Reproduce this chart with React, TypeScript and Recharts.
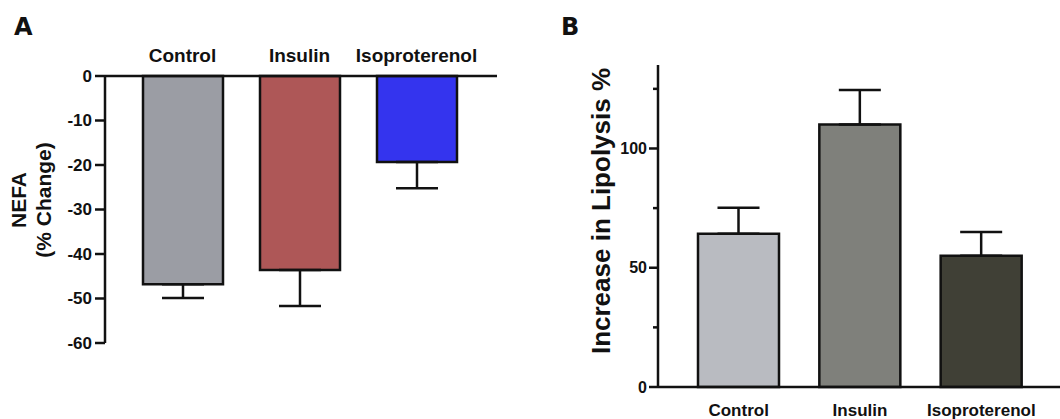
import { BarChart, Bar, XAxis, YAxis, ErrorBar, Cell } from "recharts";

const groups = ["Control", "Insulin", "Isoproterenol"];

// panel A – NEFA % change
const nefaChange = [-46.8, -43.6, -19.3];
const nefaSem = [3.1, 8.1, 5.9];
const nefaColors = ["#9b9da4", "#ae5757", "#3434ee"];
const nefaTicks = [0, -10, -20, -30, -40, -50, -60];

// panel B – increase in lipolysis
const lipolysis = [64.2, 110.1, 55.0];
const lipolysisSem = [10.9, 14.4, 10.0];
const lipolysisColors = ["#b9bbc1", "#7f807b", "#404036"];
const lipolysisTicks = [0, 25, 50, 75, 100, 125];
const lipolysisLabelled = [0, 50, 100];

const INK = "#111";
const FONT = "'Liberation Sans', Arial, sans-serif";
const LINE = 2.5;

// one-sided SEM bars: A points down, B points up
const dataA = groups.map((g, i) => ({ group: g, value: nefaChange[i], err: [nefaSem[i], 0] }));
const dataB = groups.map((g, i) => ({ group: g, value: lipolysis[i], err: [0, lipolysisSem[i]] }));

const NefaTitle = () => (
  <g fontFamily={FONT} fontWeight={700} fontSize={21} fill={INK} textAnchor="middle">
    <text transform="translate(19,200) rotate(-90)" dy="0.35em">NEFA</text>
    <text transform="translate(44,200) rotate(-90)" dy="0.35em">(% Change)</text>
  </g>
);

const LipolysisTitle = () => (
  <text
    transform="translate(71,211) rotate(-90)"
    dy="0.35em"
    textAnchor="middle"
    fontFamily={FONT}
    fontWeight={700}
    fontSize={26}
    fill={INK}
  >
    Increase in Lipolysis %
  </text>
);

type TickProps = { x?: number; y?: number; payload?: { value: number } };

const NefaTick = ({ x, y, payload }: TickProps) => {
  if (x == null || y == null || !payload) return null;
  return (
    <g>
      <line x1={x - 10} x2={x} y1={y} y2={y} stroke={INK} strokeWidth={LINE} />
      <text x={x - 13} y={y} dy="0.35em" textAnchor="end" fontFamily={FONT} fontWeight={700} fontSize={17} fill={INK}>
        {payload.value}
      </text>
    </g>
  );
};

const LipolysisTick = ({ x, y, payload }: TickProps) => {
  if (x == null || y == null || !payload) return null;
  const major = lipolysisLabelled.includes(payload.value);
  const len = major ? 9 : 5;
  return (
    <g>
      <line x1={x - len} x2={x} y1={y} y2={y} stroke={INK} strokeWidth={LINE} />
      {major && (
        <text x={x - len - 2} y={y} dy="0.35em" textAnchor="end" fontFamily={FONT} fontWeight={700} fontSize={16} fill={INK}>
          {payload.value}
        </text>
      )}
    </g>
  );
};

const panelLetter = (left: number): React.CSSProperties => ({
  position: "absolute",
  left,
  top: 15,
  fontFamily: "'DejaVu Sans', sans-serif",
  fontWeight: 700,
  fontSize: 24,
  lineHeight: "24px",
  color: INK,
});

const App = () => {
  return (
    <div style={{ position: "absolute", left: 0, top: 0, width: 1060, height: 419, background: "#fff" }}>
      <div style={panelLetter(14)}>A</div>
      <div style={panelLetter(561)}>B</div>

      <div style={{ position: "absolute", left: 0, top: 0 }}>
        <BarChart width={530} height={419} data={dataA} margin={{ top: 36, right: 33, bottom: 76, left: 0 }}>
          <XAxis
            dataKey="group"
            orientation="top"
            height={40}
            interval={0}
            tickSize={0}
            tickMargin={14}
            tickLine={false}
            axisLine={{ stroke: INK, strokeWidth: LINE }}
            padding={{ left: 19, right: 22 }}
            tick={{ fill: INK, fontSize: 19, fontWeight: 700, fontFamily: FONT }}
          />
          <YAxis
            type="number"
            domain={[-60, 0]}
            ticks={nefaTicks}
            width={105}
            tickSize={0}
            tickMargin={0}
            tickLine={false}
            axisLine={{ stroke: INK, strokeWidth: LINE }}
            tick={<NefaTick />}
            label={<NefaTitle />}
          />
          <Bar dataKey="value" barSize={80} stroke={INK} strokeWidth={LINE} isAnimationActive={false}>
            {dataA.map((_, i) => (
              <Cell key={`a-${i}`} fill={nefaColors[i]} />
            ))}
            <ErrorBar dataKey="err" direction="y" width={21} stroke={INK} strokeWidth={LINE} />
          </Bar>
        </BarChart>
      </div>

      <div style={{ position: "absolute", left: 530, top: 0 }}>
        <BarChart width={530} height={419} data={dataB} margin={{ top: 65, right: 0, bottom: 0, left: 0 }}>
          <XAxis
            dataKey="group"
            height={32}
            interval={0}
            tickSize={0}
            tickMargin={17}
            tickLine={false}
            axisLine={{ stroke: INK, strokeWidth: LINE }}
            padding={{ left: 20, right: 18 }}
            tick={{ fill: INK, fontSize: 17, fontWeight: 700, fontFamily: FONT }}
          />
          <YAxis
            type="number"
            domain={[0, 135]}
            ticks={lipolysisTicks}
            width={128}
            tickSize={0}
            tickMargin={0}
            tickLine={false}
            axisLine={{ stroke: INK, strokeWidth: LINE }}
            tick={<LipolysisTick />}
            label={<LipolysisTitle />}
          />
          <Bar dataKey="value" barSize={81} stroke={INK} strokeWidth={LINE} isAnimationActive={false}>
            {dataB.map((_, i) => (
              <Cell key={`b-${i}`} fill={lipolysisColors[i]} />
            ))}
            <ErrorBar dataKey="err" direction="y" width={21} stroke={INK} strokeWidth={LINE} />
          </Bar>
        </BarChart>
      </div>
    </div>
  );
};

export default App;
